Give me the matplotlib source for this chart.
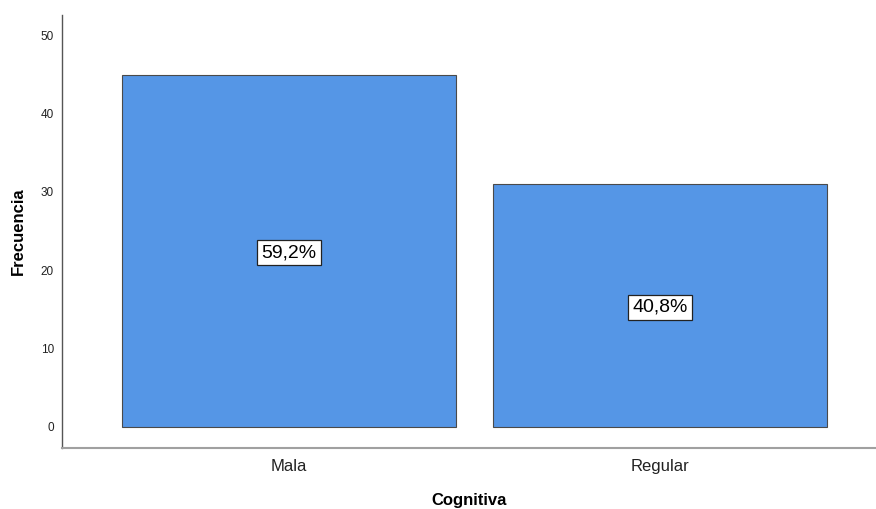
import matplotlib
matplotlib.use('Agg')
import matplotlib.pyplot as plt

# data
categories = ['Mala', 'Regular']
frequencies = [45, 31]
percent_labels = ['59,2%', '40,8%']
y_ticks = [0, 10, 20, 30, 40, 50]

plt.rcParams['font.family'] = ['Liberation Sans', 'DejaVu Sans']

fig = plt.figure(figsize=(8.76, 5.09), dpi=100)
ax = fig.add_axes([0.0711, 0.1204, 0.928, 0.8501])

positions = list(range(len(categories)))
bars = ax.bar(positions, frequencies, width=0.9, color='#5596E6',
              edgecolor='#4A4A4A', linewidth=0.8)

# percentage boxes in the middle of each bar
for x, h, txt in zip(positions, frequencies, percent_labels):
    ax.text(x, h / 2, txt, ha='center', va='center_baseline', fontsize=14,
            color='black',
            bbox=dict(boxstyle='square,pad=0.22', facecolor='white',
                      edgecolor='#222222', linewidth=0.9))

ax.set_xlim(-0.611, 1.58)
ax.set_ylim(-2.68, 52.6)
ax.set_xticks(positions)
ax.set_xticklabels(categories)
ax.set_yticks(y_ticks)

ax.tick_params(axis='y', length=0, pad=6, labelsize=8.5, labelcolor='#222222')
ax.tick_params(axis='x', length=0, pad=8, labelsize=12, labelcolor='#222222')

for side in ['top', 'right']:
    ax.spines[side].set_visible(False)
ax.spines['left'].set_color('#555555')
ax.spines['bottom'].set_color('#A0A0A0')
ax.spines['left'].set_linewidth(1.0)
ax.spines['bottom'].set_linewidth(1.5)

ax.set_xlabel('Cognitiva', fontsize=12, fontweight='bold', labelpad=14)
ax.set_ylabel('Frecuencia', fontsize=12, fontweight='bold', labelpad=11)

fig.savefig('out.png', dpi=100)
